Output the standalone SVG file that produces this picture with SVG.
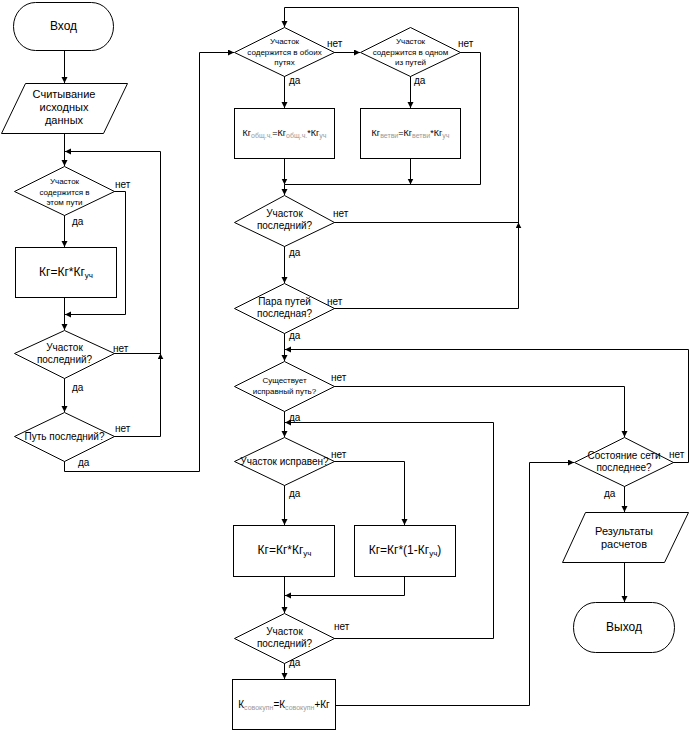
<svg xmlns="http://www.w3.org/2000/svg" width="689" height="730" viewBox="0 0 689 730">
<defs>
<marker id="a" markerUnits="userSpaceOnUse" markerWidth="7" markerHeight="7" refX="6" refY="3" orient="auto"><path d="M0,0 L6,3 L0,6 z" fill="#000"/></marker>
</defs>
<style>
.s{fill:#fff;stroke:#000;stroke-width:1}
.c{fill:none;stroke:#000;stroke-width:1;marker-end:url(#a)}
.n{fill:none;stroke:#000;stroke-width:1}
text{font-family:"Liberation Sans",Arial,sans-serif;fill:#000}
.t12{font-size:12px;text-anchor:middle}
.t11{font-size:11px;text-anchor:middle}
.t10{font-size:10px;text-anchor:middle}
.t9{font-size:9px;text-anchor:middle}
.t8{font-size:8px;text-anchor:middle}
.l{font-size:10px}
.g{fill:#999}
</style>
<rect width="689" height="730" fill="#fff"/>
<g id="connectors">
<path class="c" d="M64.5,50 V83"/>
<path class="c" d="M64.5,133 V166"/>
<path class="c" d="M64.5,215 V247"/>
<path class="c" d="M114,191.5 H125.5 V314.5 H65"/>
<path class="c" d="M64.5,297 V330"/>
<path class="c" d="M64.5,378 V412"/>
<path class="c" d="M114,353.5 H160.5 v-0.1"/>
<path class="c" d="M114,436.5 H160.5 V151.5 H65"/>
<path class="c" d="M64.5,461 V471.5 H199.5 V52.5 H234"/>
<path class="c" d="M334,308.5 H518.5 V7.5 H284.5 V27"/>
<path class="c" d="M334,222.5 H518.5 v-0.1"/>
<path class="c" d="M334,52.5 H360"/>
<path class="c" d="M284.5,76 V108"/>
<path class="c" d="M410.5,76 V108"/>
<path class="n" d="M460,52.5 H480.5 V184.5 H284.5"/>
<path class="c" d="M284.5,158 V184.5"/>
<path class="c" d="M410.5,158 V184.5"/>
<path class="c" d="M284.5,184.5 V195"/>
<path class="c" d="M284.5,246 V283"/>
<path class="c" d="M284.5,333 V361"/>
<path class="c" d="M673,462.5 H688.5 V349.5 H285"/>
<path class="c" d="M334,386.5 H624.5 V437"/>
<path class="c" d="M284.5,411 V437"/>
<path class="c" d="M334,638.5 H493.5 V422.5 H285"/>
<path class="c" d="M334,461.5 H404.5 V525"/>
<path class="c" d="M284.5,485 V525"/>
<path class="c" d="M284.5,576 V613"/>
<path class="c" d="M404.5,576 V595.5 H285"/>
<path class="c" d="M284.5,663 V679"/>
<path class="c" d="M335,705.5 H529.5 V462.5 H574"/>
<path class="c" d="M624.5,486 V512"/>
<path class="c" d="M624.5,562 V602"/>
</g>
<g id="labels">
<text class="l" x="115" y="188">нет</text>
<text class="l" x="72" y="225">да</text>
<text class="l" x="113" y="352">нет</text>
<text class="l" x="72" y="391">да</text>
<text class="l" x="115" y="432">нет</text>
<text class="l" x="78" y="466">да</text>
<text class="l" x="327" y="47">нет</text>
<text class="l" x="289" y="84">да</text>
<text class="l" x="458" y="47">нет</text>
<text class="l" x="414" y="84">да</text>
<text class="l" x="333" y="217">нет</text>
<text class="l" x="289" y="256">да</text>
<text class="l" x="327" y="305">нет</text>
<text class="l" x="289" y="339">да</text>
<text class="l" x="331" y="381">нет</text>
<text class="l" x="289" y="421">да</text>
<text class="l" x="331" y="458">нет</text>
<text class="l" x="289" y="497">да</text>
<text class="l" x="334" y="630">нет</text>
<text class="l" x="289" y="666">да</text>
<text class="l" x="669" y="458">нет</text>
<text class="l" x="604" y="497">да</text>
</g>
<g id="start">
<rect class="s" x="13.5" y="2.5" width="100" height="48" rx="22" ry="24"/>
<text class="t12" x="63.5" y="30">Вход</text>
</g>
<g id="input">
<polygon class="s" points="25.5,83.5 127.5,83.5 103.5,133.5 1.5,133.5"/>
<text class="t11" x="64" y="98">Считывание</text>
<text class="t11" x="64" y="111">исходных</text>
<text class="t11" x="64" y="124">данных</text>
</g>
<g id="d1">
<polygon class="s" points="64.5,166.5 114.5,191.5 64.5,215.5 14.5,191.5"/>
<text class="t8" x="64.5" y="184">Участок</text>
<text class="t8" x="64.5" y="195">содержится в</text>
<text class="t8" x="64.5" y="205">этом пути</text>
</g>
<g id="b1">
<rect class="s" x="15.5" y="247.5" width="101" height="50"/>
<text class="t12" x="66" y="276">Кг=Кг*Кг<tspan font-size="8" dy="2">уч</tspan></text>
</g>
<g id="d2">
<polygon class="s" points="64.5,330.5 114.5,353.5 64.5,378.5 14.5,353.5"/>
<text class="t10" x="64.5" y="351">Участок</text>
<text class="t10" x="64.5" y="363">последний?</text>
</g>
<g id="d3">
<polygon class="s" points="64.5,412.5 114.5,436.5 64.5,461.5 14.5,436.5"/>
<text class="t10" x="64.5" y="440">Путь последний?</text>
</g>
<g id="d4">
<polygon class="s" points="284.5,27.5 334.5,52.5 284.5,76.5 234.5,52.5"/>
<text class="t8" x="284.5" y="44">Участок</text>
<text class="t8" x="284.5" y="55">содержится в обоих</text>
<text class="t8" x="284.5" y="65">путях</text>
</g>
<g id="d5">
<polygon class="s" points="410.5,27.5 460.5,52.5 410.5,76.5 360.5,52.5"/>
<text class="t8" x="410.5" y="44">Участок</text>
<text class="t8" x="410.5" y="55">содержится в одном</text>
<text class="t8" x="410.5" y="65">из путей</text>
</g>
<g id="b6">
<rect class="s" x="234.5" y="108.5" width="100" height="50"/>
<text class="t9" x="284.5" y="136">Кг<tspan class="g" font-size="7" dy="1.5">общ.ч.</tspan><tspan dy="-1.5">=Кг</tspan><tspan class="g" font-size="7" dy="1.5">общ.ч.</tspan><tspan dy="-1.5">*Кг</tspan><tspan class="g" font-size="7" dy="1.5">уч</tspan></text>
</g>
<g id="b7">
<rect class="s" x="360.5" y="108.5" width="100" height="50"/>
<text class="t9" x="410.5" y="136">Кг<tspan class="g" font-size="7" dy="1.5">ветви</tspan><tspan dy="-1.5">=Кг</tspan><tspan class="g" font-size="7" dy="1.5">ветви</tspan><tspan dy="-1.5">*Кг</tspan><tspan class="g" font-size="7" dy="1.5">уч</tspan></text>
</g>
<g id="d8">
<polygon class="s" points="284.5,195.5 334.5,222.5 284.5,246.5 234.5,222.5"/>
<text class="t10" x="284.5" y="217">Участок</text>
<text class="t10" x="284.5" y="229">последний?</text>
</g>
<g id="d9">
<polygon class="s" points="284.5,283.5 334.5,308.5 284.5,333.5 234.5,308.5"/>
<text class="t10" x="284.5" y="305">Пара путей</text>
<text class="t10" x="284.5" y="317">последная?</text>
</g>
<g id="d10">
<polygon class="s" points="284.5,361.5 334.5,386.5 284.5,411.5 234.5,386.5"/>
<text class="t8" x="284.5" y="383">Существует</text>
<text class="t8" x="284.5" y="394">исправный путь?</text>
</g>
<g id="d11">
<polygon class="s" points="284.5,437.5 334.5,461.5 284.5,485.5 234.5,461.5"/>
<text class="t10" x="284.5" y="465">Участок исправен?</text>
</g>
<g id="b12">
<rect class="s" x="233.5" y="525.5" width="101" height="51"/>
<text class="t12" x="284.5" y="554">Кг=Кг*Кг<tspan font-size="8" dy="2">уч</tspan></text>
</g>
<g id="b13">
<rect class="s" x="354.5" y="525.5" width="101" height="51"/>
<text class="t12" x="405" y="554">Кг=Кг*(1-Кг<tspan font-size="8" dy="2">уч</tspan><tspan dy="-2">)</tspan></text>
</g>
<g id="d14">
<polygon class="s" points="284.5,613.5 334.5,638.5 284.5,663.5 234.5,638.5"/>
<text class="t10" x="284.5" y="635">Участок</text>
<text class="t10" x="284.5" y="647">последний?</text>
</g>
<g id="b15">
<rect class="s" x="232.5" y="679.5" width="103" height="50"/>
<text class="t10" x="284" y="708">К<tspan class="g" font-size="7" dy="1.5">совокупн</tspan><tspan dy="-1.5">=К</tspan><tspan class="g" font-size="7" dy="1.5">совокупн</tspan><tspan dy="-1.5">+Кг</tspan></text>
</g>
<g id="d16">
<polygon class="s" points="624.5,437.5 673.5,462.5 624.5,486.5 574.5,462.5"/>
<text class="t10" x="624" y="459">Состояние сети</text>
<text class="t10" x="624" y="471">последнее?</text>
</g>
<g id="output">
<polygon class="s" points="585.5,512.5 688.5,512.5 664.5,562.5 562.5,562.5"/>
<text class="t11" x="624" y="535">Результаты</text>
<text class="t11" x="624" y="548">расчетов</text>
</g>
<g id="end">
<rect class="s" x="573.5" y="602.5" width="101" height="50" rx="22" ry="25"/>
<text class="t12" x="624" y="631">Выход</text>
</g>
</svg>
